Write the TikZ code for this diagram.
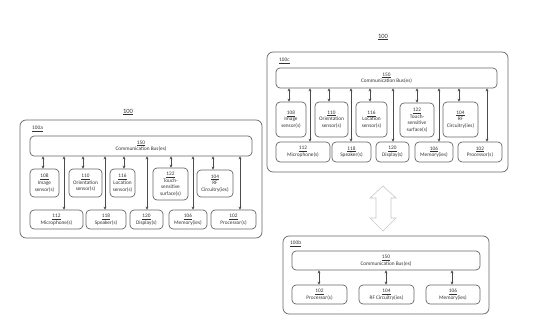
\documentclass[tikz,border=0pt]{standalone}
\usepackage{fontspec}
\setmainfont{Carlito}
\usetikzlibrary{arrows.meta}
\tikzset{
 box/.style={draw=black!60, line width=0.7pt, rounded corners=4pt, inner sep=0pt, align=center, text=black!80, font=\fontsize{5.3}{6.6}\selectfont},
 outer/.style={draw=black!60, line width=0.7pt, rounded corners=6pt, inner sep=0pt},
 arr/.style={draw=black!70, line width=0.55pt, {Stealth[length=3pt,width=3pt]}-{Stealth[length=3pt,width=3pt]}},
 tag/.style={text=black!80, font=\fontsize{5.3}{6}\selectfont, inner sep=0pt},
 title/.style={text=black!80, font=\fontsize{6.5}{7}\selectfont, inner sep=0pt},
}
\newcommand\bx[7][box]{\node[#1, minimum width={#5pt-#3pt}, minimum height={#6pt-#4pt}] (#2) at ({(#3+#5)/2},{(#4+#6)/2}) {#7};}
\begin{document}
\begin{tikzpicture}[x=1pt,y=-1pt]
\useasboundingbox (0,0) rectangle (535,334);

% ---------------- 100a (left) ----------------
\node[title] (tA) at (128,112) {\underline{100}};
\bx[outer]{A}{20}{120}{262}{238}{}
\node[tag, anchor=west] (lA) at (32,129) {\underline{100a}};
\bx{Abus}{30}{136}{252}{156}{\underline{150}\\Communication Bus(es)}
\bx{A108}{30}{169}{59}{197}{\underline{108}\\Image\\sensor(s)}
\bx{A110}{69}{169}{102}{197}{\underline{110}\\Orientation\\sensor(s)}
\bx{A116}{110}{169}{135}{197}{\underline{116}\\Location\\sensor(s)}
\bx{A122}{153}{168}{188}{200}{\underline{122}\\Touch-\\sensitive\\surface(s)}
\bx{A104}{197}{170}{233}{197}{\underline{104}\\RF\\Circuitry(ies)}
\bx{A112}{30}{210}{83}{229}{\underline{112}\\Microphone(s)}
\bx{A118}{86}{210}{126}{229}{\underline{118}\\Speaker(s)}
\bx{A120}{130}{210}{163}{229}{\underline{120}\\Display(s)}
\bx{A106}{169}{210}{207}{229}{\underline{106}\\Memory(ies)}
\bx{A102}{211}{210}{256}{229}{\underline{102}\\Processor(s)}
\draw[arr] (Abus.south -| 43,0) -- (A108.north -| 43,0);
\draw[arr] (Abus.south -| 64,0) -- (A112.north -| 64,0);
\draw[arr] (Abus.south -| 83,0) -- (A110.north -| 83,0);
\draw[arr] (Abus.south -| 105,0) -- (A118.north -| 105,0);
\draw[arr] (Abus.south -| 124,0) -- (A116.north -| 124,0);
\draw[arr] (Abus.south -| 147,0) -- (A120.north -| 147,0);
\draw[arr] (Abus.south -| 171,0) -- (A122.north -| 171,0);
\draw[arr] (Abus.south -| 193,0) -- (A106.north -| 193,0);
\draw[arr] (Abus.south -| 213,0) -- (A104.north -| 213,0);
\draw[arr] (Abus.south -| 240,0) -- (A102.north -| 240,0);

% ---------------- 100c (right) ----------------
\node[title] (tC) at (383,37) {\underline{100}};
\bx[outer]{C}{267}{52}{508}{172}{}
\node[tag, anchor=west] (lC) at (279,61) {\underline{100c}};
\bx{Cbus}{276}{68}{497}{88}{\underline{150}\\Communication Bus(es)}
\bx{C108}{276}{102}{306}{137}{\underline{108}\\Image\\sensor(s)}
\bx{C110}{315}{102}{348}{137}{\underline{110}\\Orientation\\sensor(s)}
\bx{C116}{356}{102}{387}{137}{\underline{116}\\Location\\sensor(s)}
\bx{C122}{400}{103}{434}{137}{\underline{122}\\Touch-\\sensitive\\surface(s)}
\bx{C104}{443}{102}{478}{137}{\underline{104}\\RF\\Circuitry(ies)}
\bx{C112}{276}{142}{330}{162}{\underline{112}\\Microphone(s)}
\bx{C118}{332}{142}{371}{162}{\underline{118}\\Speaker(s)}
\bx{C120}{376}{142}{409}{162}{\underline{120}\\Display(s)}
\bx{C106}{415}{142}{453}{162}{\underline{106}\\Memory(ies)}
\bx{C102}{458}{142}{502}{162}{\underline{102}\\Processor(s)}
\draw[arr] (Cbus.south -| 289,0) -- (C108.north -| 289,0);
\draw[arr] (Cbus.south -| 310,0) -- (C112.north -| 310,0);
\draw[arr] (Cbus.south -| 329,0) -- (C110.north -| 329,0);
\draw[arr] (Cbus.south -| 351,0) -- (C118.north -| 351,0);
\draw[arr] (Cbus.south -| 370,0) -- (C116.north -| 370,0);
\draw[arr] (Cbus.south -| 393,0) -- (C120.north -| 393,0);
\draw[arr] (Cbus.south -| 417,0) -- (C122.north -| 417,0);
\draw[arr] (Cbus.south -| 439,0) -- (C106.north -| 439,0);
\draw[arr] (Cbus.south -| 459,0) -- (C104.north -| 459,0);
\draw[arr] (Cbus.south -| 487,0) -- (C102.north -| 487,0);

% ---------------- hollow double arrow ----------------
\draw[draw=black!22, line width=0.6pt, fill=white]
  (383,186) -- (396,198) -- (391,198) -- (391,218) -- (396,218) -- (383,231)
  -- (370,218) -- (376,218) -- (376,198) -- (370,198) -- cycle;

% ---------------- 100b (bottom) ----------------
\bx[outer]{B}{283}{236}{489}{314}{}
\node[tag, anchor=west] (lB) at (290,244) {\underline{100b}};
\bx{Bbus}{292}{251}{480}{270}{\underline{150}\\Communication Bus(es)}
\bx{B102}{292}{285}{347}{304}{\underline{102}\\Processor(s)}
\bx{B104}{359}{285}{414}{304}{\underline{104}\\RF Circuitry(ies)}
\bx{B106}{426}{285}{480}{304}{\underline{106}\\Memory(ies)}
\draw[arr] (Bbus.south -| 319,0) -- (B102.north -| 319,0);
\draw[arr] (Bbus.south -| 386,0) -- (B104.north -| 386,0);
\draw[arr] (Bbus.south -| 452,0) -- (B106.north -| 452,0);
\end{tikzpicture}
\end{document}
